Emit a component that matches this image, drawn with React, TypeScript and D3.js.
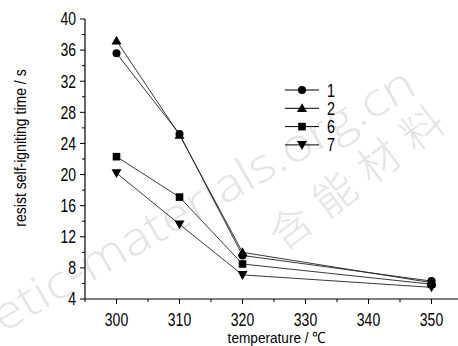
import React from "react";
import * as d3 from "d3";

const temps = [300, 310, 320, 350];
const seriesNames = ["1", "2", "6", "7"];
const s1 = [35.6, 25.2, 9.6, 6.3];
const s2 = [37.2, 25.1, 10.0, 6.1];
const s6 = [22.3, 17.1, 8.5, 5.9];
const s7 = [20.2, 13.6, 7.1, 5.5];
const allSeries = [s1, s2, s6, s7];
const symbols = ["circle", "triangle", "square", "down"];
const xTicks = [300, 310, 320, 330, 340, 350];
const yTicks = [4, 8, 12, 16, 20, 24, 28, 32, 36, 40];

const W = 458, H = 346;
const x = d3.scaleLinear().domain([295, 355]).range([85, 463]);
const y = d3.scaleLinear().domain([4, 40]).range([299, 19]);
const FONT = "'Liberation Sans', Arial, sans-serif";

function Marker({ kind, cx, cy }: { kind: string; cx: number; cy: number }) {
  const c = "#000";
  if (kind === "circle") return <circle cx={cx} cy={cy} r={4} fill={c} />;
  if (kind === "square") return <rect x={cx - 3.8} y={cy - 3.8} width={7.6} height={7.6} fill={c} />;
  if (kind === "triangle")
    return <path d={`M${cx},${cy - 5} L${cx + 5},${cy + 3.8} L${cx - 5},${cy + 3.8}Z`} fill={c} />;
  return <path d={`M${cx},${cy + 5} L${cx + 5},${cy - 3.8} L${cx - 5},${cy - 3.8}Z`} fill={c} />;
}

function NText({ x: tx, y: ty, size, sx = 0.8, anchor = "middle", rotate = 0, children, fill = "#000" }: any) {
  return (
    <g transform={`translate(${tx},${ty}) rotate(${rotate}) scale(${sx},1)`}>
      <text x={0} y={0} fontSize={size} fontFamily={FONT} textAnchor={anchor} fill={fill}>
        {children}
      </text>
    </g>
  );
}

export default function App() {
  const line = d3
    .line<number>()
    .x((_, i) => x(temps[i]))
    .y((d) => y(d));
  const xMinor = d3.range(295, 356, 5).filter((v) => !xTicks.includes(v));
  const yMinor = d3.range(4, 41, 2).filter((v) => !yTicks.includes(v));
  return (
    <svg width={W} height={H} style={{ position: "absolute", left: 0, top: 0, background: "#fff" }}>
      {/* watermark */}
      <g fill="#e4e4e4">
        <text transform="translate(3,333) rotate(-30)" fontSize={46} fontFamily="'Open Sans', sans-serif" fontWeight={300} textLength={480} lengthAdjust="spacingAndGlyphs">
          etic-materials.org.cn
        </text>
        <text transform="translate(283,252) rotate(-37)" fontSize={42} fontFamily="'Noto Sans CJK SC'" fontWeight={200} letterSpacing={13}>
          含能材料
        </text>
      </g>
      {/* axes */}
      <line x1={85} y1={y(4)} x2={85} y2={y(40)} stroke="#000" strokeWidth={1.2} />
      <line x1={85} y1={y(4)} x2={W} y2={y(4)} stroke="#000" strokeWidth={1.2} />
      {yTicks.map((t) => (
        <g key={"y" + t}>
          <line x1={80} x2={85} y1={y(t)} y2={y(t)} stroke="#000" />
          <NText x={76} y={y(t) + 6.3} size={17.5} anchor="end">{t}</NText>
        </g>
      ))}
      {yMinor.map((t) => (
        <line key={"ym" + t} x1={82} x2={85} y1={y(t)} y2={y(t)} stroke="#000" />
      ))}
      {xTicks.map((t) => (
        <g key={"x" + t}>
          <line x1={x(t)} x2={x(t)} y1={y(4)} y2={y(4) + 5} stroke="#000" />
          <NText x={x(t)} y={y(4) + 26.5} size={17.5}>{t}</NText>
        </g>
      ))}
      {xMinor.map((t) => (
        <line key={"xm" + t} x1={x(t)} x2={x(t)} y1={y(4)} y2={y(4) + 3} stroke="#000" />
      ))}
      <NText x={277} y={343} size={15.5} sx={0.88}>temperature / ℃</NText>
      <NText x={26} y={148} size={16.5} sx={0.85} rotate={-90}>resist self-igniting time / s</NText>
      {/* series */}
      {allSeries.map((s, i) => (
        <g key={"s" + i}>
          <path d={line(s) || ""} fill="none" stroke="#222" strokeWidth={0.9} />
          {s.map((v, j) => (
            <Marker key={j} kind={symbols[i]} cx={x(temps[j])} cy={y(v)} />
          ))}
        </g>
      ))}
      {/* legend */}
      {seriesNames.map((n, i) => {
        const ly = 90 + i * 18.3;
        return (
          <g key={"l" + i}>
            <line x1={285} x2={319} y1={ly} y2={ly} stroke="#000" strokeWidth={1} />
            <Marker kind={symbols[i]} cx={302} cy={ly} />
            <NText x={327} y={ly + 6.5} size={18} anchor="start">{n}</NText>
          </g>
        );
      })}
    </svg>
  );
}
